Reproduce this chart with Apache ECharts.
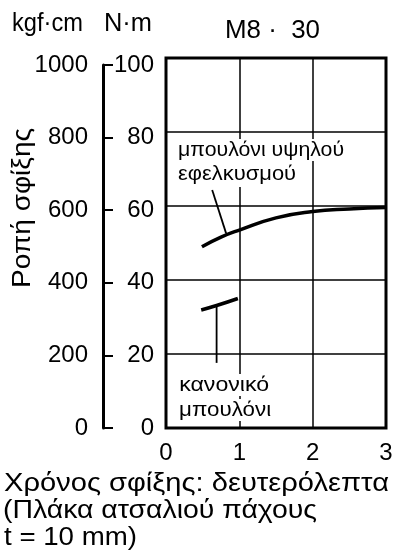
<!DOCTYPE html>
<html><head><meta charset="utf-8">
<script src="https://cdn.jsdelivr.net/npm/echarts@6/dist/echarts.min.js"></script>
<style>html,body{margin:0;padding:0;background:#fff}#c{width:396px;height:557px}</style>
</head><body><div id="c"></div>
<script>
// Data
const timeHigh = [0.49, 0.75, 1.0, 1.5, 2.0, 2.5, 3.0];
const torqueHigh = [49.0, 51.6, 53.5, 56.8, 58.5, 59.2, 59.6];
const timeNormal = [0.48, 0.69, 0.98];
const torqueNormal = [31.9, 33.1, 35.0];
const leaderHigh = [[0.63, 64.3], [0.82, 52.6]];
const leaderNormal = [[0.69, 33.0], [0.69, 17.6]];
const xTicks = [0, 1, 2, 3];
const nmTicks = [0, 20, 40, 60, 80, 100];
const kgfTicks = [0, 200, 400, 600, 800, 1000];

const FONT = '"Liberation Sans", Arial, sans-serif';
const chart = echarts.init(document.getElementById('c'));
const zip = (a, b) => a.map((v, i) => [v, b[i]]);

const mctx = document.createElement('canvas').getContext('2d');
function fitText(text, size, x, baseline, width, extra) {
  const font = size + 'px ' + FONT;
  mctx.font = font;
  const w = mctx.measureText(text).width;
  return Object.assign({type: 'text', z: 100, x: x, y: baseline - 0.35 * size, scaleX: width / w,
    style: Object.assign({text: text, font: font, fill: '#000', textAlign: 'left', textVerticalAlign: 'middle'}, extra || {})});
}
const boxed = {backgroundColor: '#fff', padding: [1, 1, 1, 1]};

const graphics = [
  fitText('kgf·cm', 25, 12, 33, 71),
  fitText('N·m', 25, 104, 33, 48),
  fitText('M8 ·  30', 25, 225, 40, 95),
  fitText('μπουλόνι υψηλού', 20, 177, 157, 166, boxed),
  fitText('εφελκυσμού', 20, 177, 181, 118, {backgroundColor: '#fff', padding: [1, 1, 5, 1]}),
  fitText('κανονικό', 20, 178, 392, 90, boxed),
  fitText('μπουλόνι', 20, 178, 417, 92, boxed),
  fitText('Χρόνος σφίξης: δευτερόλεπτα', 26, 4, 493, 385),
  fitText('(Πλάκα ατσαλιού πάχους', 26, 3, 520, 314),
  fitText('t = 10 mm)', 26, 4, 547, 133)
];
// rotated axis title
(function(){
  const size = 25, font = size + 'px ' + FONT, text = 'Ροπή σφίξης';
  mctx.font = font;
  const w = mctx.measureText(text).width;
  graphics.push({type: 'text', z: 100, x: 23, y: 208, rotation: Math.PI / 2, scaleX: 160 / w,
    style: {text: text, font: font, fill: '#000', textAlign: 'center', textVerticalAlign: 'middle'}});
})();

chart.setOption({
  animation: false,
  grid: [
    {left: 166, right: 10, top: 58, bottom: 129, show: true, borderColor: '#000', borderWidth: 3, backgroundColor: 'transparent'},
    {left: 103, width: 63, top: 65, bottom: 129}
  ],
  xAxis: [
    {gridIndex: 0, type: 'value', min: xTicks[0], max: xTicks[xTicks.length-1], interval: 1,
      axisLine: {show: false}, axisTick: {show: false},
      splitLine: {show: true, lineStyle: {color: '#000', width: 1.5}},
      axisLabel: {fontSize: 24, color: '#000', fontFamily: FONT, margin: 13}},
    {gridIndex: 1, type: 'value', min: 0, max: 1, show: false}
  ],
  yAxis: [
    {gridIndex: 0, type: 'value', min: 0, max: 100, interval: 20,
      axisLine: {show: false}, axisTick: {show: false}, axisLabel: {show: false},
      splitLine: {show: true, lineStyle: {color: '#000', width: 1.5}}},
    {gridIndex: 1, type: 'value', position: 'left', min: kgfTicks[0], max: kgfTicks[kgfTicks.length-1], interval: 200,
      axisLine: {show: true, lineStyle: {color: '#000', width: 3}},
      axisTick: {show: true, inside: true, length: 10, lineStyle: {color: '#000', width: 2}},
      splitLine: {show: false},
      axisLabel: {fontSize: 24, color: '#000', fontFamily: FONT, margin: 15, formatter: v => String(v)}},
    {gridIndex: 1, type: 'value', position: 'right', min: nmTicks[0], max: nmTicks[nmTicks.length-1], interval: 20,
      axisLine: {show: false}, axisTick: {show: false}, splitLine: {show: false},
      axisLabel: {inside: true, fontSize: 24, color: '#000', fontFamily: FONT, margin: 12, formatter: v => String(v)}}
  ],
  series: [
    {type: 'line', xAxisIndex: 0, yAxisIndex: 0, data: zip(timeHigh, torqueHigh), smooth: true, showSymbol: false,
      lineStyle: {color: '#000', width: 3.5}, z: 5},
    {type: 'line', xAxisIndex: 0, yAxisIndex: 0, data: zip(timeNormal, torqueNormal), smooth: true, showSymbol: false,
      lineStyle: {color: '#000', width: 3.5}, z: 5},
    {type: 'line', xAxisIndex: 0, yAxisIndex: 0, data: leaderHigh, showSymbol: false,
      lineStyle: {color: '#000', width: 1.8}, z: 4},
    {type: 'line', xAxisIndex: 0, yAxisIndex: 0, data: leaderNormal, showSymbol: false,
      lineStyle: {color: '#000', width: 1.8}, z: 4}
  ],
  graphic: graphics
});
</script></body></html>
